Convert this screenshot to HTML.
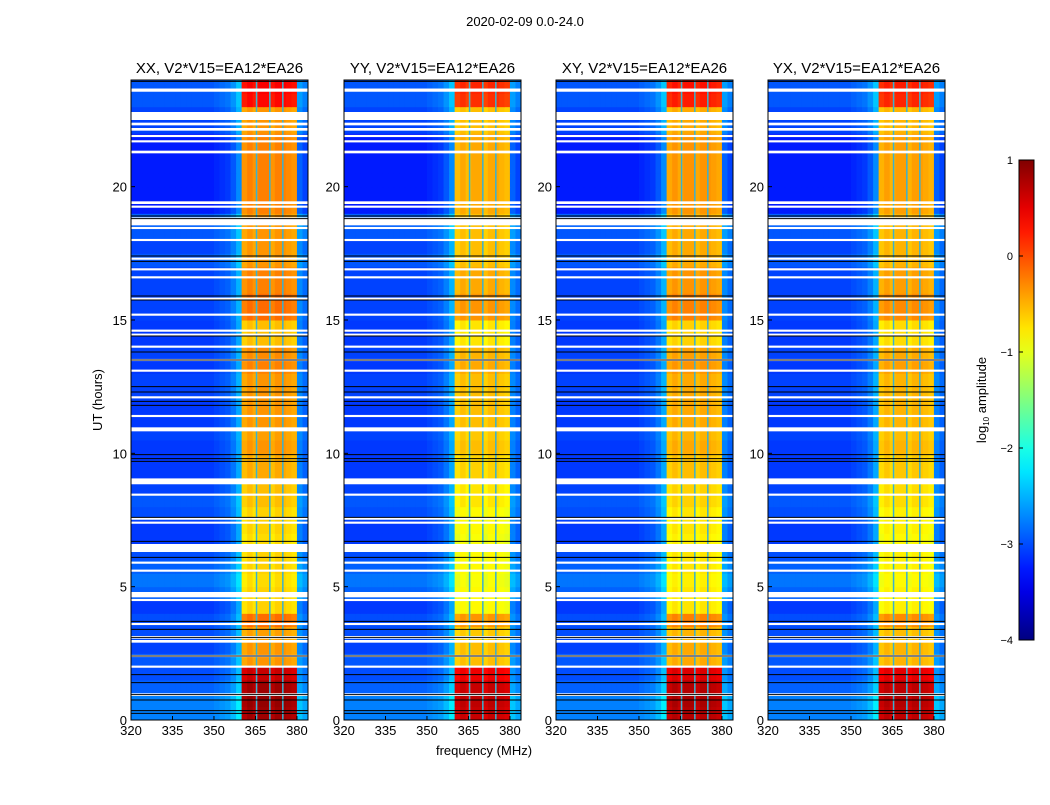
<!DOCTYPE html>
<html><head><meta charset="utf-8">
<style>
body{margin:0;background:#fff;}
#wrap{position:relative;width:1050px;height:800px;background:#fff;font-family:"Liberation Sans",sans-serif;}
</style></head>
<body>
<div id="wrap">
<svg id="svg" width="1050" height="800" xmlns="http://www.w3.org/2000/svg"></svg>
</div>
<script>
// ---- data ----
const panelTitles = ["XX, V2*V15=EA12*EA26","YY, V2*V15=EA12*EA26","XY, V2*V15=EA12*EA26","YX, V2*V15=EA12*EA26"];
const panelBandOffset = [0.05, -0.15, -0.05, -0.1];
const xTicks = [320,335,350,365,380];
const yTicks = [0,5,10,15,20];
const cbTicks = [1,0,-1,-2,-3,-4];
// time rows, 0.5 h each, from 0 to 24 h
const bandLevel = [0.8,0.85,0.8,0.6,-0.4,-0.4,-0.45,-0.2,-0.7,-0.7,-0.75,-0.7,-0.7,-0.75,-0.7,-0.7,-0.6,-0.6,-0.5,-0.5,-0.4,-0.45,-0.4,-0.4,-0.4,-0.4,-0.3,-0.35,-0.6,-0.6,-0.2,-0.2,-0.3,-0.3,-0.4,-0.4,-0.4,-0.4,-0.3,-0.3,-0.3,-0.3,-0.3,-0.3,-0.4,-0.4,0.3,0.35];
const bgLevel = [-2.75,-2.75,-2.9,-3.0,-2.95,-3.05,-3.0,-3.0,-3.1,-2.9,-2.8,-2.9,-3.0,-3.1,-3.1,-3.0,-2.95,-3.05,-3.1,-3.1,-3.1,-3.05,-3.1,-3.1,-3.05,-3.05,-3.1,-3.05,-3.1,-3.1,-3.05,-3.05,-3.05,-3.05,-2.95,-3.05,-2.95,-2.9,-3.25,-3.25,-3.25,-3.25,-3.25,-3.25,-3.05,-3.05,-2.95,-2.95];
// frequency columns, 2 MHz each, from 320 to 384 MHz
const colIsBand = [0,0,0,0,0,0,0,0,0,0,0,0,0,0,0,0,0,0,0,0,1,1,1,1,1,1,1,1,1,1,0,0];
const colOffset = [0,0,0,0,0,0,0,0,0,0,0,0,0,0,0,0.05,0.1,0.15,0.3,0.55,-0.1,0,-0.1,0,0,-0.1,0,0,-0.05,-0.1,0.35,0.2];
const dividerFreqs = [365.4,370.2,374.9];
const whiteGaps = [[23.62,0.12],[22.65,0.3],[22.35,0.1],[22.15,0.1],[21.9,0.08],[21.7,0.08],[21.3,0.1],[19.4,0.1],[19.25,0.08],[18.7,0.3],[18.45,0.08],[18.0,0.08],[17.3,0.08],[16.9,0.08],[16.6,0.08],[15.8,0.08],[15.2,0.08],[14.6,0.08],[14.45,0.08],[14.0,0.08],[13.5,0.08],[13.1,0.08],[12.1,0.08],[11.4,0.08],[10.9,0.15],[8.95,0.22],[8.45,0.08],[7.55,0.08],[7.4,0.08],[6.45,0.3],[5.9,0.08],[5.6,0.08],[4.7,0.2],[4.5,0.08],[3.6,0.08],[3.1,0.1],[2.95,0.1],[2.4,0.08],[2.0,0.08],[0.95,0.1]];
const blackLines = [23.95,18.9,18.8,17.4,17.2,15.9,15.75,14.4,13.8,13.5,12.5,12.3,11.95,11.8,9.95,9.8,9.7,7.6,6.7,6.1,3.7,3.4,3.1,2.4,1.7,1.4,0.95,0.75,0.35,0.25];
// ---- layout ----
const panelX = [131,344,556,768], pw = 177, py0 = 80, py1 = 720;
const fMin = 320, fMax = 384, tMin = 0, tMax = 24;
const NS = "http://www.w3.org/2000/svg";
const svg = document.getElementById('svg');
function jet(v){ // v in [-4,1]
  let t = Math.max(0,Math.min(1,(v+4)/5));
  const r = Math.max(0,Math.min(1,1.5-Math.abs(4*t-3)));
  const g = Math.max(0,Math.min(1,1.5-Math.abs(4*t-2)));
  const b = Math.max(0,Math.min(1,1.5-Math.abs(4*t-1)));
  return `rgb(${Math.round(r*255)},${Math.round(g*255)},${Math.round(b*255)})`;
}
function mk(tag, attrs, parent){
  const e = document.createElementNS(NS, tag);
  for (const k in attrs) e.setAttribute(k, attrs[k]);
  (parent||svg).appendChild(e);
  return e;
}
function txt(x,y,s,size,anchor,parent){
  const t = mk('text',{x:x,y:y,'font-size':size,'text-anchor':anchor||'middle','font-family':'Liberation Sans, sans-serif',fill:'#000'},parent);
  t.textContent = s;
  return t;
}
const sup = txt(525,26,"2020-02-09 0.0-24.0",13);



panelX.forEach((x0,p)=>{
  const xs = f => x0 + (f-fMin)/(fMax-fMin)*pw;
  const ys = t => py1 - (t-tMin)/(tMax-tMin)*(py1-py0);
  const g = mk('g',{});
  
  
  const nr = bandLevel.length, nc = colIsBand.length;
  const dt = (tMax-tMin)/nr, df = (fMax-fMin)/nc;
  for (let r=0;r<nr;r++){
    for (let c=0;c<nc;c++){
      const v = colIsBand[c] ? bandLevel[r]+colOffset[c]+panelBandOffset[p] : bgLevel[r]+colOffset[c];
      const xa = xs(fMin+c*df), xb = xs(fMin+(c+1)*df);
      const ya = ys(tMin+(r+1)*dt), yb = ys(tMin+r*dt);
      const cell = mk('rect',{x:xa,y:ya,width:xb-xa+0.5,height:yb-ya+0.5,fill:jet(v)},g);
      
      
    }
  }
  dividerFreqs.forEach(f=>{
    const d = mk('line',{x1:xs(f),x2:xs(f),y1:py0,y2:py1,stroke:'#3ab0d0','stroke-width':1.5},g);
    
    
  });
  whiteGaps.forEach(w=>{
    const h = Math.max(1.5,w[1]/(tMax-tMin)*(py1-py0));
    const e = mk('rect',{x:x0,y:ys(w[0])-h/2,width:pw,height:h,fill:'#fff'},g);
    
    
  });
  blackLines.forEach(t=>{
    const e = mk('line',{x1:x0,x2:x0+pw,y1:ys(t),y2:ys(t),stroke:'#000','stroke-width':1},g);
    
    
  });
  const fr = mk('rect',{x:x0,y:py0,width:pw,height:py1-py0,fill:'none',stroke:'#000','stroke-width':1},g);
  
  
  xTicks.forEach(f=>{
    mk('line',{x1:xs(f),x2:xs(f),y1:py1,y2:py1-4,stroke:'#000'},g);
    const l = txt(xs(f),735,String(f),13,'middle',g);
    
    
  });
  yTicks.forEach(t=>{
    mk('line',{x1:x0,x2:x0+4,y1:ys(t),y2:ys(t),stroke:'#000'},g);
    const l = txt(x0-4,ys(t)+5,String(t),13,'end',g);
    
    
  });
  const tt = txt(x0+pw/2,73,panelTitles[p],15,'middle',g);
  
  
});
const yl = txt(0,0,"UT (hours)",13);
yl.setAttribute('transform','translate(102,400) rotate(-90)');


const xl = txt(484,755,"frequency (MHz)",13);


// colorbar
const cbx = 1019, cbw = 15, cby0 = 160, cby1 = 640;
const cbs = v => cby1 - (v+4)/5*(cby1-cby0);
const defs = mk('defs',{});
const grad = mk('linearGradient',{id:'jetg',x1:0,y1:1,x2:0,y2:0},defs);
for (let i=0;i<=20;i++){ mk('stop',{offset:i/20,'stop-color':jet(-4+5*i/20)},grad); }
const cb = mk('rect',{x:cbx,y:cby0,width:cbw,height:cby1-cby0,fill:'url(#jetg)',stroke:'#000','stroke-width':1});


cbTicks.forEach(v=>{
  mk('line',{x1:cbx,x2:cbx+4,y1:cbs(v),y2:cbs(v),stroke:'#000'});
  const l = txt(1013,cbs(v)+4,v<0?'\u2212'+(-v):String(v),11,'end');
  
  
});
const cl = mk('text',{transform:'translate(986,400) rotate(-90)','font-size':13,'text-anchor':'middle','font-family':'Liberation Sans, sans-serif'});
cl.innerHTML = 'log<tspan font-size="8" dy="3">10</tspan><tspan dy="-3"> amplitude</tspan>';


</script>
</body></html>
